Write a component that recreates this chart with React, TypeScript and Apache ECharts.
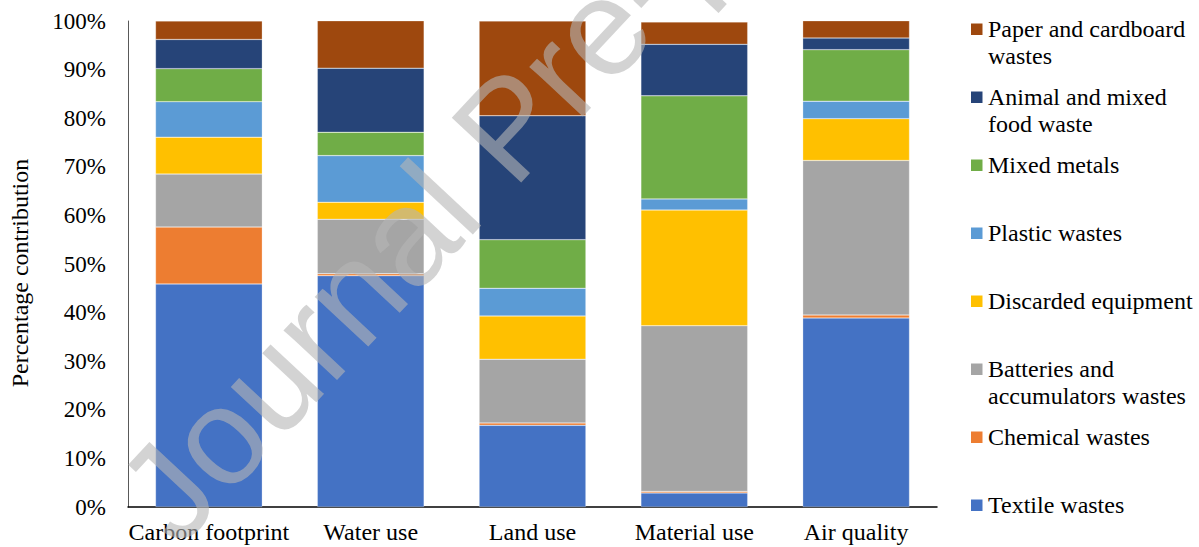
import React, { useEffect, useRef } from "react";
import * as echarts from "echarts";

const categories = ["Carbon footprint", "Water use", "Land use", "Material use", "Air quality"];

const seriesNames = [
  "Textile wastes",
  "Chemical wastes",
  "Batteries and accumulators wastes",
  "Discarded equipment",
  "Plastic wastes",
  "Mixed metals",
  "Animal and mixed food waste",
  "Paper and cardboard wastes",
];

const legendLabels = [
  "Textile wastes",
  "Chemical wastes",
  "Batteries and\naccumulators wastes",
  "Discarded equipment",
  "Plastic wastes",
  "Mixed metals",
  "Animal and mixed\nfood waste",
  "Paper and cardboard\nwastes",
];

const colors = ["#4472C4", "#ED7D31", "#A5A5A5", "#FFC000", "#5B9BD5", "#70AD47", "#264478", "#9E480E"];

// percentage contributions per category (Carbon, Water, Land, Material, Air)
const textile = [45.9, 47.6, 16.8, 2.9, 38.9];
const chemical = [11.7, 0.4, 0.5, 0.3, 0.6];
const batteries = [10.9, 11.2, 13.1, 34.1, 31.8];
const discarded = [7.6, 3.5, 8.9, 23.8, 8.6];
const plastic = [7.3, 9.6, 5.7, 2.3, 3.6];
const metals = [6.8, 4.8, 10.0, 21.2, 10.6];
const animal = [6.0, 13.2, 25.5, 10.6, 2.4];
const paper = [3.8, 9.8, 19.5, 4.6, 4.7];

const seriesValues = [textile, chemical, batteries, discarded, plastic, metals, animal, paper];

const yTicks = [0, 10, 20, 30, 40, 50, 60, 70, 80, 90, 100];

const SERIF = "Liberation Serif";

export default function App() {
  const ref = useRef<HTMLDivElement>(null);

  useEffect(() => {
    if (!ref.current) return;
    const chart = echarts.init(ref.current, null, { renderer: "svg" });

    const legendGraphics: any[] = [];
    const order = seriesNames.map((_, i) => i).reverse();
    order.forEach((idx, k) => {
      const cy = 29 + 68 * k;
      legendGraphics.push({
        type: "rect",
        shape: { x: 971, y: cy - 5.5, width: 11.5, height: 11.5 },
        style: { fill: colors[idx] },
        z: 10,
      });
      legendGraphics.push({
        type: "text",
        x: 988,
        y: cy - 13.5,
        style: {
          text: legendLabels[idx],
          fontFamily: SERIF,
          fontSize: 24,
          fill: "#000",
          lineHeight: 27,
          verticalAlign: "top",
          align: "left",
        },
        z: 10,
      });
    });

    const watermark = {
      type: "text",
      x: 194,
      y: 564,
      rotation: (47 * Math.PI) / 180,
      style: {
        text: "Journal Pre-proof",
        fontFamily: "Liberation Sans",
        fontSize: 138,
        fill: "rgba(182,182,182,0.6)",
        align: "left",
        verticalAlign: "bottom",
      },
      z: 100,
      silent: true,
    };

    chart.setOption({
      animation: false,
      color: colors,
      grid: { left: 128, right: 262, top: 21, bottom: 40, containLabel: false },
      xAxis: {
        type: "category",
        data: categories,
        axisLine: { lineStyle: { color: "#000", width: 1.5 } },
        axisTick: { show: false },
        axisLabel: { color: "#000", fontFamily: SERIF, fontSize: 24, margin: 13, interval: 0 },
      },
      yAxis: {
        type: "value",
        min: yTicks[0],
        max: yTicks[yTicks.length - 1],
        interval: 10,
        name: "Percentage contribution",
        nameLocation: "middle",
        nameRotate: 90,
        nameGap: 96,
        nameTextStyle: { color: "#000", fontFamily: SERIF, fontSize: 24, padding: [0, 18, 0, 0] },
        axisLine: { show: true, lineStyle: { color: "#595959", width: 1 } },
        axisTick: { show: false },
        splitLine: { show: false },
        axisLabel: {
          color: "#000",
          fontFamily: SERIF,
          fontSize: 23,
          margin: 22,
          formatter: "{value}%",
        },
      },
      series: seriesNames.map((name, i) => ({
        name,
        type: "bar",
        stack: "total",
        barWidth: "66%",
        data: seriesValues[i],
        itemStyle: { color: colors[i], borderColor: "rgba(255,255,255,0.5)", borderWidth: 0.5 },
      })),
      graphic: [...legendGraphics, watermark],
    });

    return () => chart.dispose();
  }, []);

  return (
    <div
      ref={ref}
      style={{ position: "fixed", left: 0, top: 0, width: 1199, height: 547, background: "#fff" }}
    />
  );
}
